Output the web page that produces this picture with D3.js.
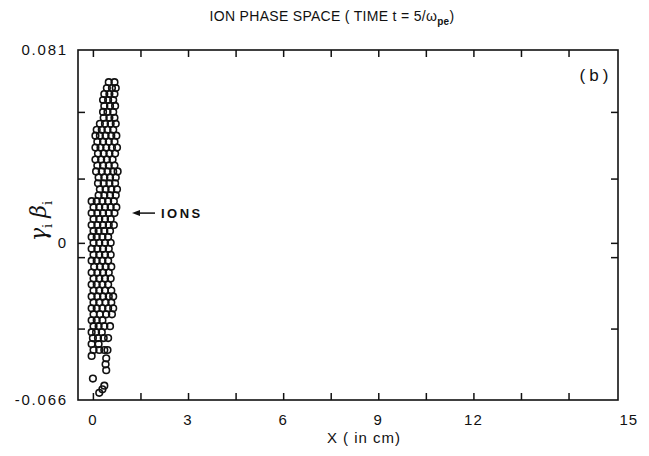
<!DOCTYPE html>
<html>
<head>
<meta charset="utf-8">
<script src="https://cdn.jsdelivr.net/npm/d3@7"></script>
<style>
  html, body { margin: 0; padding: 0; background: #fff; }
  svg { display: block; }
  text { font-family: "Liberation Sans", Arial, sans-serif; fill: #111; }
</style>
</head>
<body>
<svg id="chart" width="649" height="456"></svg>
<script>
// ---------------- data ----------------
const xDomain = [-0.47, 16.56];
const yDomain = [-0.066, 0.081];
const xTicks = [0, 1.5, 3, 4.5, 6, 7.5, 9, 10.5, 12, 13.5, 15];
const xTickPos = [0, 3, 6, 9, 12, 16.9];
const xTickText = ["0", "3", "6", "9", "12", "15"];
const yTicks = [0.055, 0.027, 0, -0.006, -0.036];
const yTickLabels = [0.081, 0, -0.066];
const yTickText = ["0.081", "0", "-0.066"];

// ion phase-space points, read row by row (momentum level -> positions in cm)
const rowY = [
  0.0675, 0.065, 0.0625, 0.060, 0.0575, 0.055, 0.0525, 0.050, 0.0475, 0.045,
  0.0425, 0.040, 0.0375, 0.035, 0.0325, 0.030, 0.0275, 0.025, 0.0225, 0.020,
  0.0175, 0.015, 0.0125, 0.010, 0.0075, 0.005, 0.0025, 0.000, -0.0025, -0.005,
  -0.0075, -0.010, -0.0125, -0.015, -0.0175, -0.020, -0.0225, -0.025, -0.0275, -0.030,
  -0.0325, -0.035, -0.0375, -0.040, -0.0425, -0.045, -0.0475, -0.0485, -0.051, -0.0535,
  -0.057, -0.060, -0.0615, -0.063
];
const rowX = [
  [0.50, 0.68], [0.44, 0.60, 0.72], [0.36, 0.52, 0.68], [0.32, 0.48, 0.64], [0.36, 0.54, 0.70],
  [0.32, 0.46, 0.64], [0.34, 0.52, 0.68], [0.22, 0.38, 0.56, 0.72], [0.12, 0.28, 0.46, 0.64], [0.08, 0.22, 0.40, 0.58, 0.74],
  [0.14, 0.32, 0.50, 0.68], [0.08, 0.24, 0.42, 0.60, 0.76], [0.16, 0.34, 0.52, 0.70], [0.08, 0.26, 0.44, 0.62], [0.14, 0.32, 0.50, 0.68],
  [0.10, 0.28, 0.46, 0.64, 0.78], [0.18, 0.36, 0.54, 0.72], [0.16, 0.34, 0.52, 0.70], [0.22, 0.40, 0.58, 0.76], [0.18, 0.36, 0.54, 0.72],
  [-0.04, 0.12, 0.30, 0.48, 0.66], [0.02, 0.20, 0.38, 0.56, 0.74], [-0.04, 0.14, 0.32, 0.50, 0.68], [0.02, 0.20, 0.38, 0.56], [-0.04, 0.14, 0.32, 0.50, 0.66],
  [0.02, 0.18, 0.36, 0.54], [-0.04, 0.12, 0.30, 0.48], [0.02, 0.20, 0.38, 0.56], [-0.04, 0.14, 0.32, 0.50], [0.02, 0.20, 0.38, 0.56],
  [-0.04, 0.12, 0.30, 0.48], [0.04, 0.22, 0.40, 0.58], [-0.04, 0.14, 0.32, 0.50], [0.02, 0.20, 0.38, 0.56], [-0.04, 0.12, 0.30, 0.48],
  [0.02, 0.20, 0.38, 0.58], [-0.04, 0.14, 0.32, 0.50, 0.64], [0.02, 0.20, 0.40, 0.58], [-0.04, 0.12, 0.30, 0.48, 0.64], [0.02, 0.22, 0.42, 0.60],
  [-0.04, 0.12, 0.30], [0.02, 0.18, 0.36, 0.54], [-0.04, 0.10, 0.28], [0.00, 0.16, 0.34, 0.48], [-0.04, 0.18],
  [0.02, 0.20, 0.36, 0.46], [-0.04], [0.42], [0.40], [0.42],
  [0.00], [0.36], [0.30], [0.20]
];

// ---------------- layout ----------------
const svg = d3.select("#chart");
const mL = 78, mR = 618, mT = 50, mB = 400;
const x = d3.scaleLinear().domain(xDomain).range([mL, mR]);
const y = d3.scaleLinear().domain(yDomain).range([mB, mT]);
const tickLen = 7;

// frame
svg.append("rect")
  .attr("x", mL).attr("y", mT)
  .attr("width", mR - mL).attr("height", mB - mT)
  .attr("fill", "none").attr("stroke", "#111").attr("stroke-width", 1.6);

const gB = svg.append("g").attr("transform", `translate(0,${mB})`)
  .call(d3.axisBottom(x).tickValues(xTicks).tickSize(-tickLen).tickFormat(""));
const gT = svg.append("g").attr("transform", `translate(0,${mT})`)
  .call(d3.axisTop(x).tickValues(xTicks).tickSize(-tickLen).tickFormat(""));
const gL = svg.append("g").attr("transform", `translate(${mL},0)`)
  .call(d3.axisLeft(y).tickValues(yTicks).tickSize(-tickLen).tickFormat(""));
const gR = svg.append("g").attr("transform", `translate(${mR},0)`)
  .call(d3.axisRight(y).tickValues(yTicks).tickSize(-tickLen).tickFormat(""));
[gB, gT, gL, gR].forEach(g => {
  g.select(".domain").remove();
  g.selectAll(".tick line").attr("stroke", "#111").attr("stroke-width", 1.5);
});

// x tick labels
svg.append("g").selectAll("text").data(xTickPos).join("text")
  .attr("x", d => x(d)).attr("y", mB + 25)
  .attr("text-anchor", "middle")
  .style("font-size", "15px").style("letter-spacing", "1px")
  .text((d, i) => xTickText[i]);

// y tick labels
svg.append("g").selectAll("text").data(yTickLabels).join("text")
  .attr("x", mL - 10).attr("y", d => y(d) + 5)
  .attr("text-anchor", "end")
  .style("font-size", "15px").style("letter-spacing", "1.8px")
  .text((d, i) => yTickText[i]);

// ion points
const pts = [];
rowY.forEach((yy, i) => rowX[i].forEach(xx => pts.push([xx, yy])));
svg.append("g").selectAll("circle").data(pts).join("circle")
  .attr("cx", d => x(d[0])).attr("cy", d => y(d[1]))
  .attr("r", 3.3)
  .attr("fill", "none").attr("stroke", "#111").attr("stroke-width", 1.6);

// title
const title = svg.append("text")
  .attr("x", 332).attr("y", 21).attr("text-anchor", "middle")
  .style("font-size", "14px").style("letter-spacing", "0.3px");
title.append("tspan").text("ION PHASE SPACE ( TIME t = 5/ω");
title.append("tspan").attr("dy", 4).style("font-size", "10px").style("font-weight", "bold").text("pe");
title.append("tspan").attr("dy", -4).text(")");

// x axis title
svg.append("text")
  .attr("x", 364).attr("y", 443).attr("text-anchor", "middle")
  .style("font-size", "15px").style("letter-spacing", "1px")
  .text("X ( in cm)");

// y axis title
const yt = svg.append("text")
  .attr("transform", "translate(46,221) rotate(-90)")
  .attr("text-anchor", "middle")
  .style("font-family", "'DejaVu Serif', serif").style("font-style", "italic")
  .style("font-size", "22px");
yt.append("tspan").text("γ");
yt.append("tspan").attr("dy", 6).style("font-size", "13px").style("font-style", "normal").text("i");
yt.append("tspan").attr("dy", -6).attr("dx", 6).text("β");
yt.append("tspan").attr("dy", 6).style("font-size", "13px").style("font-style", "normal").text("i");

// panel label
svg.append("text")
  .attr("x", 596).attr("y", 81).attr("text-anchor", "middle")
  .style("font-size", "17px").style("letter-spacing", "4px")
  .text("(b)");

// IONS annotation
const ay = y(0.0125);
svg.append("line")
  .attr("x1", 139).attr("x2", 155).attr("y1", ay).attr("y2", ay)
  .attr("stroke", "#111").attr("stroke-width", 1.5);
svg.append("path")
  .attr("d", `M132,${ay} L140,${ay - 3} L140,${ay + 3} Z`)
  .attr("fill", "#111");
svg.append("text")
  .attr("x", 161).attr("y", ay + 5)
  .style("font-size", "13px").style("font-weight", "bold").style("letter-spacing", "2.5px")
  .text("IONS");
</script>
</body>
</html>
